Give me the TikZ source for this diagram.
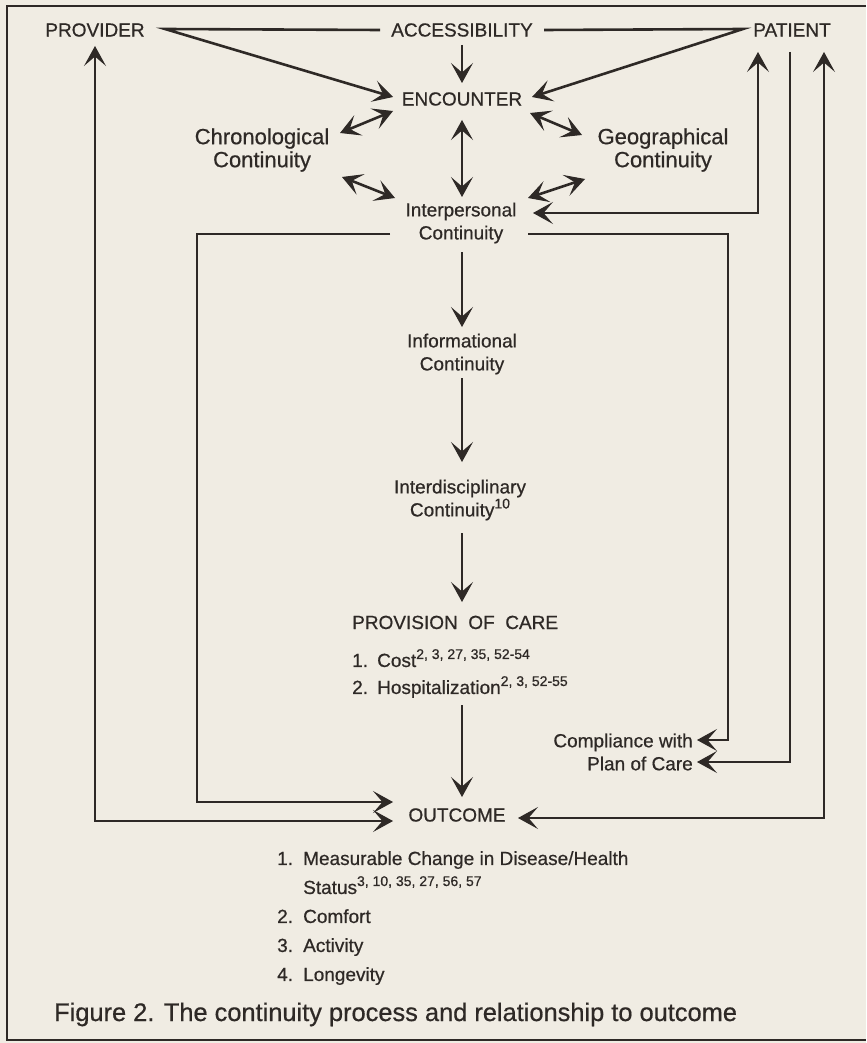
\documentclass[tikz,border=0pt]{standalone}
\usepackage{fontspec}
\setmainfont{Liberation Sans}[FakeBold=0.6]
\usetikzlibrary{arrows.meta}
\definecolor{paper}{RGB}{240,236,227}
\definecolor{ink}{RGB}{46,41,38}
\newcommand{\refs}[1]{\raisebox{0.42em}{\fontsize{14}{14}\selectfont #1}}
\tikzset{lbl/.style = {font=\fontsize{19}{23}\selectfont, text=ink, align=center, inner sep=0pt},
         biglbl/.style = {lbl, font=\fontsize{22}{23}\selectfont},
         link/.style = {ink, line width=2.6pt},
         frame/.style = {ink, line width=1.8pt},
         head/.tip = {Stealth[length=20pt 0 0,width=22pt 0 0,inset=9.5pt 0 0,line width=1pt 0 0]}}

\begin{document}
\begin{tikzpicture}[x=1pt, y=-1pt, >=head]
      \fill [paper] (0,0) rectangle (866,1043);
      \draw [frame] (866,6) -- (7,6) -- (7,1040) -- (866,1040);
      \node [lbl] (prov) at (95,30) {PROVIDER};
      \node [lbl] (acc) at (462,30) {ACCESSIBILITY};
      \node [lbl] (pat) at (792,30) {PATIENT};
      \node [lbl] (enc) at (462,99) {ENCOUNTER};
      \node [biglbl] (chrono) at (262,150) {Chronological\\Continuity};
      \node [biglbl] (geo) at (663,150) {Geographical\\Continuity};
      \node [lbl] (inter) at (461,223) {Interpersonal\\Continuity};
      \node [lbl] (info) at (462,354) {Informational\\Continuity};
      \node [lbl] (interd) at (460,500) {Interdisciplinary\\Continuity\refs{10}};
      \node [lbl, anchor=base west] (care) at (352,629) {PROVISION\ \ OF\ \ CARE};
      \node [lbl, anchor=north west, align=left] (carelist) at (352,649)
            {\makebox[25pt][l]{1.}Cost\refs{2, 3, 27, 35, 52-54}\\[4pt]
             \makebox[25pt][l]{2.}Hospitalization\refs{2, 3, 52-55}};
      \node [lbl, anchor=east, align=right] (comp) at (693,752) {Compliance with\\Plan of Care};
      \node [lbl] (out) at (457,815) {OUTCOME};
      \node [lbl, anchor=north west, align=left] (outlist) at (277,851)
            {\makebox[26pt][l]{1.}Measurable Change in Disease/Health\\[6pt]
             \hspace*{26pt}Status\refs{3, 10, 35, 27, 56, 57}\\[6pt]
             \makebox[26pt][l]{2.}Comfort\\[6pt]
             \makebox[26pt][l]{3.}Activity\\[6pt]
             \makebox[26pt][l]{4.}Longevity};
      \node [lbl, anchor=base west, font=\fontsize{25.4}{30}\selectfont] (caption) at (54,1021)
            {Figure 2. The continuity process and relationship to outcome};
      \coordinate (accl) at (165,29);
      \coordinate (accr) at (743,29);
      \draw [link, ->] ([shift={(-82,0)}]acc.center) -- (accl) -- ([shift={(-69,-2)}]enc.center);
      \draw [link, ->] ([shift={(82,0)}]acc.center) -- (accr) -- ([shift={(70,-2)}]enc.center);
      \draw [link, ->] ([shift={(0,15)}]acc.center) -- ([shift={(0,-16)}]enc.center);
      \draw [link, <->] ([shift={(-69,12)}]enc.center) -- ([shift={(78,-17)}]chrono.center);
      \draw [link, <->] ([shift={(80,27)}]chrono.center) -- ([shift={(-66,-25)}]inter.center);
      \draw [link, <->] ([shift={(68,14)}]enc.center) -- ([shift={(-81,-15)}]geo.center);
      \draw [link, <->] ([shift={(-78,29)}]geo.center) -- ([shift={(67,-25)}]inter.center);
      \draw [link, <->] ([shift={(0,21)}]enc.center) -- ([shift={(1,-26)}]inter.center);
      \draw [link, ->] ([shift={(1,29)}]inter.center) -- ([shift={(0,-27)}]info.center);
      \draw [link, ->] ([shift={(0,24)}]info.center) -- ([shift={(2,-38)}]interd.center);
      \draw [link, ->] ([shift={(2,33)}]interd.center) -- ([shift={(110,-27)}]care.base west);
      \draw [link, ->] ([shift={(110,56)}]carelist.north west) -- ([shift={(5,-18)}]out.center);
      \draw [link, <->] ([shift={(72,-10)}]inter.center) -| ([shift={(-34,22)}]pat.center);
      \draw [link, ->] ([shift={(-2,22)}]pat.center) |- ([shift={(4,10)}]comp.east);
      \draw [link, ->] ([shift={(67,11)}]inter.center) -- ++(200,0) |- ([shift={(4,-12)}]comp.east);
      \draw [link, <->] ([shift={(32,22)}]pat.center) |- ([shift={(61,3)}]out.center);
      \draw [link, ->] ([shift={(-71,11)}]inter.center) -- ++(-193,0) |- ([shift={(-64,-13)}]out.center);
      \draw [link, <->] ([shift={(0,16)}]prov.center) |- ([shift={(-64,6)}]out.center);
\end{tikzpicture}
\end{document}
